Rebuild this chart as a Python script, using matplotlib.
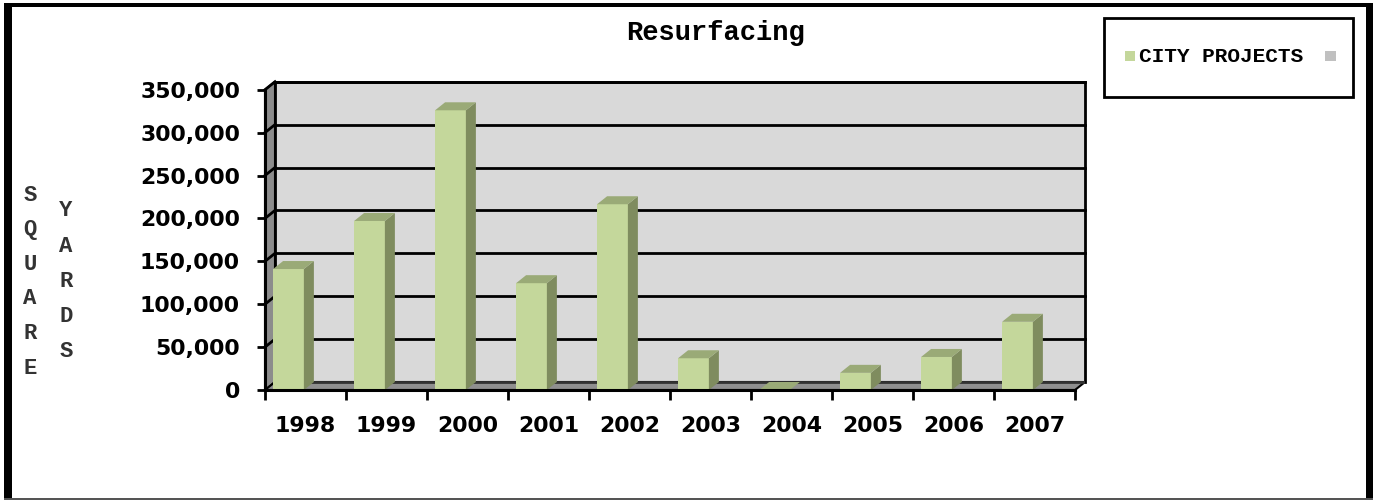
import matplotlib
matplotlib.use("Agg")
import matplotlib.pyplot as plt
from matplotlib.patches import Polygon, Rectangle
from matplotlib.lines import Line2D

years = ["1998", "1999", "2000", "2001", "2002", "2003", "2004", "2005", "2006", "2007"]
city_projects = [141000, 197000, 326000, 124500, 216500, 37000, 0, 20000, 38500, 79500]
y_ticks = [0, 50000, 100000, 150000, 200000, 250000, 300000, 350000]
title = "Resurfacing"
legend_label = "CITY PROJECTS"

W, H = 1376, 501
fig = plt.figure(figsize=(W / 100, H / 100), dpi=100)
fig.patch.set_facecolor("white")

# axes placement (pixels)
px_per_cat = 81.0
px_per_unit = 42.9 / 50000.0
DX = 10.0 / px_per_cat
DY = 8.0 / px_per_unit
ymax = y_ticks[-1]
ncat = len(years)
left_px, bottom_px = 265, 390
right_px = left_px + (ncat + DX) * px_per_cat
top_px = bottom_px - (ymax + DY) * px_per_unit
ax = fig.add_axes([left_px / W, 1 - bottom_px / H, (right_px - left_px) / W, (bottom_px - top_px) / H])
ax.set_xlim(0, ncat + DX)
ax.set_ylim(0, ymax + DY)
ax.patch.set_alpha(0)

wall_c = "#d9d9d9"
side_wall_c = "#8c8c8c"
floor_c = "#8f8f8f"
front_c = "#c4d79b"
side_c = "#7f8c5f"
top_c = "#9aaa77"

# back wall
ax.add_patch(Rectangle((DX, DY), ncat, ymax, facecolor=wall_c, edgecolor="black", lw=2, zorder=1, clip_on=False))
# left wall
ax.add_patch(Polygon([(0, 0), (DX, DY), (DX, ymax + DY), (0, ymax)], closed=True,
                     facecolor=side_wall_c, edgecolor="black", lw=1.5, zorder=1, clip_on=False))
# gridlines
for v in y_ticks[1:]:
    ax.add_line(Line2D([DX, ncat + DX], [v + DY, v + DY], color="black", lw=2, zorder=2, clip_on=False))
    ax.add_line(Line2D([0, DX], [v, v + DY], color="black", lw=2, zorder=2, clip_on=False))
# floor
ax.add_patch(Polygon([(0, 0), (ncat, 0), (ncat + DX, DY), (DX, DY)], closed=True,
                     facecolor=floor_c, edgecolor="black", lw=1.5, zorder=3, clip_on=False))
ax.add_line(Line2D([DX, ncat + DX], [DY, DY], color="#333333", lw=2, zorder=3))

# bars
bx0, bw = 0.10, 0.38
for i, v in enumerate(city_projects):
    x0 = i + bx0
    x1 = x0 + bw
    ax.bar(x0, v, width=bw, align="edge", color=front_c, zorder=5, linewidth=0)
    ax.add_patch(Polygon([(x1, 0), (x1 + DX, DY), (x1 + DX, v + DY), (x1, v)], closed=True,
                         facecolor=side_c, edgecolor="none", zorder=5))
    ax.add_patch(Polygon([(x0, v), (x0 + DX, v + DY), (x1 + DX, v + DY), (x1, v)], closed=True,
                         facecolor=top_c, edgecolor="none", zorder=5))

# axes lines
for s in ["top", "right"]:
    ax.spines[s].set_visible(False)
ax.spines["left"].set_bounds(0, ymax)
ax.spines["bottom"].set_bounds(0, ncat)
ax.spines["left"].set_linewidth(2.2)
ax.spines["bottom"].set_linewidth(2.2)
ax.spines["left"].set_zorder(6)
ax.spines["bottom"].set_zorder(6)

tick_font = dict(family="DejaVu Sans", weight="bold", size=15.8)
ax.set_yticks(y_ticks)
ax.set_yticklabels([f"{v:,}" for v in y_ticks], fontdict=tick_font)
ax.tick_params(axis="y", direction="out", length=6, width=2, pad=12)
ax.set_xticks(range(ncat + 1))
ax.set_xticklabels([""] * (ncat + 1))
ax.tick_params(axis="x", which="major", direction="out", length=7, width=2)
ax.set_xticks([i + 0.5 for i in range(ncat)], minor=True)
ax.set_xticklabels(years, minor=True, fontdict=tick_font)
ax.tick_params(axis="x", which="minor", length=0, pad=19)

mono = dict(family="Liberation Mono", weight="bold")
fig.text(715 / W, 1 - 33 / H, title, ha="center", va="center", size=19.5, **mono)

# y label (stacked letters)
for k, ch in enumerate("SQUARE"):
    fig.text(30 / W, 1 - (195 + k * 34.6) / H, ch, ha="center", va="center", size=16, color="#333333", **mono)
for k, ch in enumerate("YARDS"):
    fig.text(66 / W, 1 - (211 + k * 35.2) / H, ch, ha="center", va="center", size=16, color="#333333", **mono)

# legend box
fig.add_artist(Rectangle((1104 / W, 1 - 97 / H), (1353 - 1104) / W, (97 - 18) / H, transform=fig.transFigure,
                         facecolor="white", edgecolor="black", lw=2))
fig.add_artist(Rectangle((1125 / W, 1 - 61 / H), 10 / W, 10 / H, transform=fig.transFigure,
                         facecolor=front_c, edgecolor="none"))
fig.add_artist(Rectangle((1325 / W, 1 - 61 / H), 11 / W, 10 / H, transform=fig.transFigure,
                         facecolor="#c0c0c0", edgecolor="none"))
fig.text(1139 / W, 1 - 56 / H, legend_label, ha="left", va="center", size=15.2, **mono)

# outer frame
def frame(x0, y0, x1, y1, c="black"):
    fig.add_artist(Rectangle((x0 / W, 1 - y1 / H), (x1 - x0) / W, (y1 - y0) / H,
                             transform=fig.transFigure, facecolor=c, edgecolor="none"))
frame(4, 3, 1373, 7)
frame(4, 3, 12, 499)
frame(1366, 3, 1373, 499)
frame(4, 498, 1373, 500, c="#555555")

fig.savefig("out.png", dpi=100)
